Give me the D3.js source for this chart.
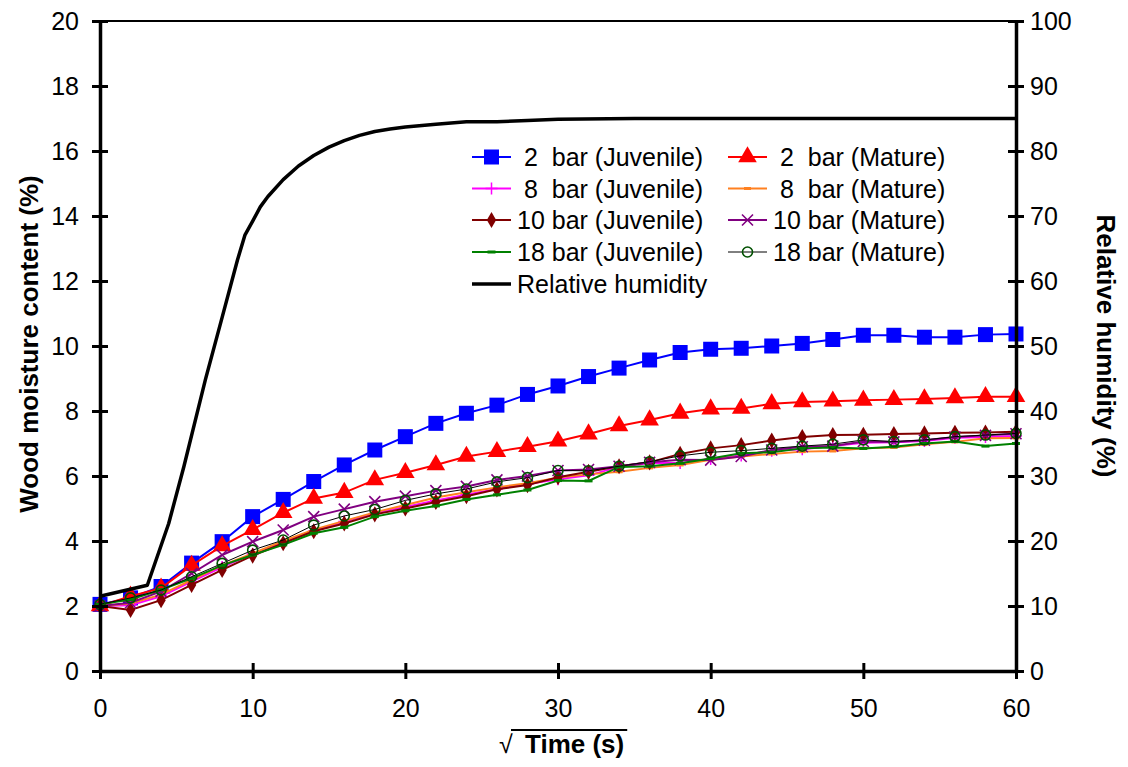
<!DOCTYPE html>
<html>
<head>
<meta charset="utf-8">
<script src="https://cdn.jsdelivr.net/npm/d3@7"></script>
<style>
  body { margin: 0; background: #fff; }
  text { font-family: "Liberation Sans", Arial, sans-serif; }
</style>
</head>
<body>
<svg id="chart" width="1128" height="767"></svg>
<script>
// sqrt(time) sampling points shared by every moisture series
var sqrtTime = [0, 2, 4, 6, 8, 10, 12, 14, 16, 18, 20, 22, 24, 26, 28, 30,
                32, 34, 36, 38, 40, 42, 44, 46, 48, 50, 52, 54, 56, 58, 60];

var juv2  = [2.05, 2.25, 2.6, 3.32, 3.98, 4.75, 5.28, 5.83, 6.34, 6.8, 7.21, 7.62, 7.93, 8.18, 8.51, 8.77,
             9.06, 9.32, 9.57, 9.8, 9.9, 9.93, 10.0, 10.08, 10.2, 10.33, 10.33, 10.27, 10.27, 10.35, 10.37];
var mat2  = [2.0, 2.3, 2.55, 3.25, 3.85, 4.35, 4.87, 5.31, 5.49, 5.88, 6.1, 6.34, 6.6, 6.75, 6.9, 7.07,
             7.29, 7.54, 7.72, 7.93, 8.06, 8.08, 8.22, 8.28, 8.3, 8.33, 8.35, 8.37, 8.4, 8.44, 8.44];
var juv8  = [2.0, 2.02, 2.3, 2.75, 3.2, 3.6, 3.95, 4.3, 4.6, 4.85, 5.05, 5.25, 5.42, 5.6, 5.75, 5.9,
             6.02, 6.28, 6.4, 6.4, 6.52, 6.63, 6.78, 6.82, 6.92, 7.02, 7.04, 7.08, 7.18, 7.2, 7.23];
var mat8  = [2.0, 2.08, 2.35, 2.8, 3.25, 3.62, 4.0, 4.35, 4.62, 4.88, 5.11, 5.34, 5.5, 5.65, 5.78, 5.95,
             6.05, 6.13, 6.25, 6.34, 6.5, 6.6, 6.68, 6.75, 6.77, 6.85, 6.88, 6.98, 7.05, 7.16, 7.17];
var juv10 = [2.0, 1.88, 2.18, 2.65, 3.11, 3.55, 3.93, 4.3, 4.54, 4.82, 5.0, 5.2, 5.38, 5.59, 5.72, 5.96,
             6.13, 6.3, 6.42, 6.68, 6.85, 6.95, 7.09, 7.2, 7.26, 7.27, 7.29, 7.31, 7.33, 7.34, 7.36];
var mat10 = [2.0, 2.1, 2.45, 3.0, 3.57, 3.98, 4.34, 4.75, 4.98, 5.21, 5.38, 5.55, 5.68, 5.88, 6.0, 6.17,
             6.2, 6.3, 6.42, 6.5, 6.49, 6.6, 6.8, 6.9, 6.92, 7.06, 7.05, 7.1, 7.2, 7.25, 7.3];
var juv18 = [2.05, 2.2, 2.5, 2.85, 3.25, 3.57, 3.88, 4.24, 4.42, 4.75, 4.93, 5.08, 5.28, 5.42, 5.57, 5.86,
             5.85, 6.28, 6.3, 6.39, 6.54, 6.7, 6.73, 6.85, 6.88, 6.85, 6.9, 7.0, 7.06, 6.92, 7.0];
var mat18 = [2.05, 2.25, 2.49, 2.9, 3.31, 3.72, 4.03, 4.49, 4.77, 4.97, 5.25, 5.45, 5.6, 5.82, 5.95, 6.17,
             6.16, 6.3, 6.44, 6.62, 6.73, 6.78, 6.85, 6.92, 6.98, 7.11, 7.06, 7.11, 7.21, 7.26, 7.31];

// relative humidity (right axis)
var rhTime   = [0, 3.1, 4.5, 5.5, 6.9, 8, 9, 9.5, 10, 10.5, 11, 12, 13, 14, 15, 16, 17, 18, 19, 20,
                22, 24, 26, 28, 30, 35, 40, 50, 60];
var rhValues = [11.5, 13.2, 22.7, 31.5, 44.8, 54.4, 63.2, 67.1, 69.2, 71.4, 73.0, 75.6, 77.7, 79.3, 80.6, 81.6, 82.4, 83.0, 83.4, 83.7,
                84.1, 84.5, 84.5, 84.7, 84.9, 85, 85, 85, 85];

var leftTicks  = [0, 2, 4, 6, 8, 10, 12, 14, 16, 18, 20];
var rightTicks = [0, 10, 20, 30, 40, 50, 60, 70, 80, 90, 100];
var xTicks     = [0, 10, 20, 30, 40, 50, 60];

var seriesNames = [" 2  bar (Juvenile)", " 2  bar (Mature)", " 8  bar (Juvenile)", " 8  bar (Mature)",
                   "10 bar (Juvenile)", "10 bar (Mature)", "18 bar (Juvenile)", "18 bar (Mature)"];
var rhName = "Relative humidity";

var svg = d3.select("#chart");
var plotLeft = 100, plotRight = 1016, plotTop = 21, plotBottom = 671;

var x = d3.scaleLinear().domain([0, 60]).range([plotLeft, plotRight]);
var y = d3.scaleLinear().domain([0, 20]).range([plotBottom, plotTop]);
var yRh = d3.scaleLinear().domain([0, 100]).range([plotBottom, plotTop]);

// series styling, in plotting order
var series = [
    {name: seriesNames[0], values: juv2,  color: "#0000ff", width: 2, marker: "square"},
    {name: seriesNames[1], values: mat2,  color: "#ff0000", width: 2, marker: "triangle"},
    {name: seriesNames[2], values: juv8,  color: "#ff00ff", width: 2, marker: "plus"},
    {name: seriesNames[3], values: mat8,  color: "#ff8020", width: 2, marker: "dash"},
    {name: seriesNames[4], values: juv10, color: "#800000", width: 2, marker: "diamond"},
    {name: seriesNames[5], values: mat10, color: "#800080", width: 2, marker: "xmark"},
    {name: seriesNames[6], values: juv18, color: "#008000", width: 2, marker: "greendash"},
    {name: seriesNames[7], values: mat18, color: "#000000", width: 1, marker: "circle"}
];

function drawMarker(g, type, color) {
    if (type == "square") {
        g.append("rect").attr("x", -7.5).attr("y", -7.5).attr("width", 15).attr("height", 15)
            .attr("fill", color);
    } else if (type == "triangle") {
        g.append("path").attr("d", d3.symbol(d3.symbolTriangle, 150)()).attr("fill", color);
    } else if (type == "plus") {
        g.append("path").attr("d", "M-6,0H6M0,-6V6").attr("stroke", color).attr("stroke-width", 1.5);
    } else if (type == "dash") {
        g.append("rect").attr("x", -3.5).attr("y", -1.5).attr("width", 7).attr("height", 3).attr("fill", color);
    } else if (type == "diamond") {
        g.append("path").attr("d", d3.symbol(d3.symbolDiamond, 75)()).attr("fill", color);
    } else if (type == "xmark") {
        g.append("path").attr("d", "M-5.5,-5.5L5.5,5.5M-5.5,5.5L5.5,-5.5").attr("stroke", color).attr("stroke-width", 1.6);
    } else if (type == "greendash") {
        g.append("rect").attr("x", -4).attr("y", -1.5).attr("width", 8).attr("height", 3).attr("fill", "#008000");
    } else if (type == "circle") {
        g.append("circle").attr("r", 5).attr("fill", "none").attr("stroke", "#005000").attr("stroke-width", 1.6);
    }
}

var line = d3.line()
    .x(function(d) { return x(d[0]); })
    .y(function(d) { return y(d[1]); });

var plot = svg.append("g").attr("class", "series");
series.forEach(function(s) {
    var pts = sqrtTime.map(function(t, i) { return [t, s.values[i]]; });
    var g = plot.append("g");
    g.append("path")
        .attr("d", line(pts))
        .attr("fill", "none")
        .attr("stroke", s.color)
        .attr("stroke-width", s.width);
    g.selectAll("g.m").data(pts).enter()
        .append("g").attr("class", "m")
        .attr("transform", function(d) { return "translate(" + x(d[0]) + "," + y(d[1]) + ")"; })
        .each(function() { drawMarker(d3.select(this), s.marker, s.color); });
});

// relative humidity curve
var rhLine = d3.line()
    .x(function(d, i) { return x(rhTime[i]); })
    .y(function(d) { return yRh(d); });
svg.append("path")
    .attr("d", rhLine(rhValues))
    .attr("fill", "none")
    .attr("stroke", "#000")
    .attr("stroke-width", 3.5)
    .attr("stroke-linejoin", "round");

// top border
svg.append("line")
    .attr("x1", plotLeft).attr("x2", plotRight).attr("y1", plotTop).attr("y2", plotTop)
    .attr("stroke", "#000").attr("stroke-width", 2);

// axes
function styleAxis(g, horizontal) {
    g.select(".domain").attr("stroke", "#000").attr("stroke-width", 3.5);
    g.selectAll(".tick line").attr("stroke", "#000").attr("stroke-width", 3);
    if (horizontal) g.selectAll(".tick line").attr("y1", -8).attr("y2", 8);
    else g.selectAll(".tick line").attr("x1", -8).attr("x2", 8);
    g.selectAll(".tick text").attr("font-size", 25).attr("fill", "#000")
        .style("font-family", '"Liberation Sans", Arial, sans-serif');
}

var gLeft = svg.append("g").attr("transform", "translate(" + plotLeft + ",0)")
    .call(d3.axisLeft(y).tickValues(leftTicks).tickSize(8).tickPadding(13).tickSizeOuter(0));
styleAxis(gLeft, false);

var gRight = svg.append("g").attr("transform", "translate(" + plotRight + ",0)")
    .call(d3.axisRight(yRh).tickValues(rightTicks).tickSize(8).tickPadding(6).tickSizeOuter(0));
styleAxis(gRight, false);

var gBottom = svg.append("g").attr("transform", "translate(0," + plotBottom + ")")
    .call(d3.axisBottom(x).tickValues(xTicks).tickSize(8).tickPadding(20).tickSizeOuter(0));
styleAxis(gBottom, true);

// axis titles
svg.append("text")
    .attr("transform", "translate(38,344) rotate(-90)")
    .attr("text-anchor", "middle")
    .attr("font-size", 26).attr("font-weight", "bold")
    .text("Wood moisture content (%)");

svg.append("text")
    .attr("transform", "translate(1097,346) rotate(90)")
    .attr("text-anchor", "middle")
    .attr("font-size", 26).attr("font-weight", "bold")
    .text("Relative humidity (%)");

svg.append("text")
    .attr("x", 499).attr("y", 753)
    .attr("font-size", 25)
    .text("\u221A");
var timeLabel = svg.append("text")
    .attr("x", 525).attr("y", 753)
    .attr("font-size", 26).attr("font-weight", "bold")
    .text("Time (s)");
var tEnd = 525 + timeLabel.node().getComputedTextLength();
svg.append("line")
    .attr("x1", 511).attr("x2", tEnd + 3).attr("y1", 730).attr("y2", 730)
    .attr("stroke", "#000").attr("stroke-width", 2);

// legend
var legend = svg.append("g").attr("class", "legend");
var rowY = [157, 188.5, 220, 252, 284];
var colX = [472, 728];
series.forEach(function(s, i) {
    var col = i % 2, row = Math.floor(i / 2);
    var g = legend.append("g").attr("transform", "translate(" + colX[col] + "," + rowY[row] + ")");
    g.append("line").attr("x1", 0).attr("x2", 39).attr("stroke", s.color).attr("stroke-width", s.width);
    var m = g.append("g").attr("transform", "translate(19.5,0)");
    drawMarker(m, s.marker, s.color);
    g.append("text").attr("x", 45).attr("y", 9)
        .attr("font-size", 25)
        .style("white-space", "pre")
        .text(s.name);
});
var rhLeg = legend.append("g").attr("transform", "translate(" + colX[0] + "," + rowY[4] + ")");
rhLeg.append("line").attr("x1", 0).attr("x2", 39).attr("stroke", "#000").attr("stroke-width", 3.5);
rhLeg.append("text").attr("x", 45).attr("y", 9).attr("font-size", 25).text(rhName);
</script>
</body>
</html>
